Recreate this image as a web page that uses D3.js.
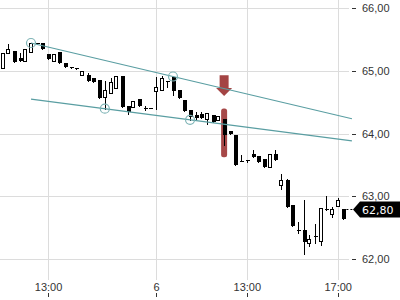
<!DOCTYPE html>
<html>
<head>
<meta charset="utf-8">
<script src="https://cdn.jsdelivr.net/npm/d3@7"></script>
<style>
  body { margin: 0; background: #fff; }
  svg { display: block; font-family: "DejaVu Sans", sans-serif; }
  .grid { stroke: #dcdcdc; stroke-width: 1; shape-rendering: crispEdges; }
  .axis text { font-size: 11px; fill: #333; }
  .axis line { stroke: #333; shape-rendering: crispEdges; }
</style>
</head>
<body>
<svg id="chart"></svg>
<script>
// 15 minute candles, index 0 = 11:00 on day 5
var opens  = [65.05,65.29,65.31,65.20,65.16,65.30,65.45,65.45,65.27,65.16,
              65.30,65.13,65.06,65.04,64.93,64.93,64.88,64.85,64.58,64.64,
              64.73,64.92,64.44,64.43,64.55,64.41,64.40,64.67,64.69,64.84,
              64.905,64.69,64.53,64.37,64.29,64.31,64.23,64.29,64.22,64.23,
              64.04,63.97,63.56,63.58,63.68,63.64,63.59,63.47,63.68,63.18,
              63.26,62.86,62.46,62.46,62.25,62.37,62.28,62.80,62.71,62.84,
              62.80];
var closes = [65.29,65.35,65.14,65.15,65.35,65.44,65.42,65.34,65.19,65.27,
              65.13,65.06,65.05,65.03,65.00,64.83,64.82,64.57,64.69,64.82,
              64.92,64.42,64.35,64.52,64.44,64.41,64.40,64.74,64.88,64.84,
              64.68,64.56,64.36,64.27,64.25,64.25,64.33,64.19,64.28,63.98,
              63.99,63.50,63.56,63.58,63.63,63.55,63.46,63.67,63.58,63.26,
              62.83,62.52,62.45,62.27,62.32,62.36,62.81,62.78,62.80,62.94,
              62.64];
var highs  = [65.29,65.42,65.31,65.28,65.35,65.442,65.45,65.45,65.27,65.27,
              65.30,65.13,65.06,65.04,65.00,64.96,64.88,64.85,64.83,64.88,
              64.92,64.92,64.44,64.52,64.55,64.44,64.40,64.90,64.91,64.84,
              64.908,64.69,64.53,64.37,64.34,64.34,64.33,64.29,64.28,64.23,
              64.04,63.97,63.65,63.58,63.73,63.64,63.59,63.67,63.73,63.35,
              63.27,62.86,62.59,62.94,62.38,62.56,62.81,63.01,62.83,62.98,
              62.80];
var lows   = [65.05,65.29,65.14,65.15,65.16,65.30,65.42,65.34,65.19,65.16,
              65.13,65.06,65.05,65.03,64.93,64.83,64.82,64.57,64.395,64.64,
              64.73,64.42,64.31,64.43,64.44,64.38,64.40,64.39,64.69,64.74,
              64.61,64.56,64.36,64.218,64.23,64.25,64.15,64.19,64.22,63.82,
              63.99,63.50,63.56,63.55,63.63,63.55,63.46,63.47,63.58,63.11,
              62.83,62.52,62.41,62.08,62.20,62.25,62.22,62.78,62.67,62.84,
              62.64];
var lastPrice = 62.80;

var yTicks = [62, 63, 64, 65, 66];
var xTickIdx = [8, 27, 43, 59];
var xTickLabels = ["13:00", "6", "13:00", "17:00"];

// trend lines: [index, price] anchors, drawn from the first anchor index to the right edge
var upperLine = [[5, 65.442], [30, 64.908]];
var lowerLine = [[18, 64.395], [33, 64.218]];
var touchPoints = [[5, 65.442], [30, 64.908], [18, 64.395], [33, 64.218]];
var lineStart = 5;
var lineEnd = 61.5;

// signal on candle 39
var signalIdx = 39;
var arrowTop = 64.93, arrowTip = 64.598;
var boxTop = 64.40, boxBottom = 63.62;

var width = 400, height = 300;
var svg = d3.select("#chart").attr("width", width).attr("height", height);

var x = d3.scaleLinear().domain([0, 60]).range([2.6, 343.4]);
var y = d3.scaleLinear().domain([62, 66]).range([259, 8]);
var fmt = d3.formatLocale({decimal: ",", thousands: ".", grouping: [3], currency: ["", ""]}).format(".2f");
var px = function(v) { return Math.round(v) + 0.5; };

// grid
svg.selectAll(".hgrid").data(yTicks).enter().append("line")
  .attr("class", "grid")
  .attr("x1", 0).attr("x2", 349)
  .attr("y1", function(d) { return px(y(d)); })
  .attr("y2", function(d) { return px(y(d)); });
svg.selectAll(".vgrid").data(xTickIdx).enter().append("line")
  .attr("class", "grid")
  .attr("x1", function(d) { return px(x(d)); })
  .attr("x2", function(d) { return px(x(d)); })
  .attr("y1", 0).attr("y2", 280);

// axes
var yAxis = svg.append("g").attr("class", "axis")
  .attr("transform", "translate(352,0)")
  .call(d3.axisRight(y).tickValues(yTicks).tickSize(4).tickPadding(6).tickFormat(fmt));
yAxis.select(".domain").remove();

var xAxis = svg.append("g").attr("class", "axis")
  .attr("transform", "translate(0,293)")
  .call(d3.axisBottom(x).tickValues(xTickIdx).tickSize(4)
    .tickFormat(function(d, i) { return xTickLabels[i]; }));
xAxis.select(".domain").remove();
xAxis.selectAll("text").attr("y", -2).attr("dy", 0);

// red highlight behind the signal candle
var hx = x(signalIdx);
svg.append("rect")
  .attr("x", hx - 3).attr("width", 6)
  .attr("y", y(boxTop)).attr("height", y(boxBottom) - y(boxTop))
  .attr("rx", 2.5)
  .attr("fill", "#9c3434").attr("opacity", 0.9);

// candles
var idx = d3.range(opens.length);
var candle = svg.append("g").selectAll("g").data(idx).enter().append("g");
candle.append("line")
  .attr("x1", function(i) { return px(x(i)); })
  .attr("x2", function(i) { return px(x(i)); })
  .attr("y1", function(i) { return Math.round(y(highs[i])); })
  .attr("y2", function(i) { return Math.round(y(lows[i])) + 1; })
  .attr("stroke", "#000").attr("shape-rendering", "crispEdges");
candle.append("rect")
  .attr("x", function(i) { return closes[i] > opens[i] ? Math.round(x(i)) - 1.5 : Math.round(x(i)) - 1; })
  .attr("width", function(i) { return closes[i] > opens[i] ? 4 : 4; })
  .attr("y", function(i) {
    var t = Math.round(y(Math.max(opens[i], closes[i])));
    return closes[i] > opens[i] ? t + 0.5 : t;
  })
  .attr("height", function(i) {
    var h = Math.round(y(Math.min(opens[i], closes[i]))) - Math.round(y(Math.max(opens[i], closes[i])));
    return closes[i] > opens[i] ? Math.max(h, 1) : Math.max(h, 1);
  })
  .attr("fill", function(i) { return closes[i] > opens[i] ? "#fff" : "#000"; })
  .attr("stroke", function(i) { return closes[i] > opens[i] ? "#000" : "none"; })
  .attr("shape-rendering", "crispEdges")
  .each(function(i) {
    if (closes[i] > opens[i]) d3.select(this).attr("width", 3);
  });

// red arrow
var ay0 = y(arrowTop), ay1 = y(arrowTip);
svg.append("path")
  .attr("d", "M" + (hx - 4.5) + "," + ay0 + "H" + (hx + 4.5) + "V" + (ay1 - 8) +
    "H" + (hx + 8) + "L" + hx + "," + ay1 + "L" + (hx - 8) + "," + (ay1 - 8) +
    "H" + (hx - 4.5) + "Z")
  .attr("fill", "#9c3434").attr("opacity", 0.92);

// trend lines
function extend(a, t) {
  var s = (a[1][1] - a[0][1]) / (a[1][0] - a[0][0]);
  return a[0][1] + (t - a[0][0]) * s;
}
[upperLine, lowerLine].forEach(function(l) {
  svg.append("line")
    .attr("x1", x(lineStart)).attr("y1", y(extend(l, lineStart)))
    .attr("x2", x(lineEnd)).attr("y2", y(extend(l, lineEnd)))
    .attr("stroke", "#5a9ea2").attr("stroke-width", 1.2);
});
svg.selectAll(".touch").data(touchPoints).enter().append("circle")
  .attr("cx", function(d) { return x(d[0]); })
  .attr("cy", function(d) { return y(d[1]); })
  .attr("r", 4.5)
  .attr("fill", "none").attr("stroke", "#7fb4b6").attr("stroke-width", 1.2);

// last price marker
var ly = Math.round(y(lastPrice)) + 0.5;
svg.append("line")
  .attr("x1", x(60) + 3).attr("x2", 353).attr("y1", ly).attr("y2", ly)
  .attr("stroke", "#000").attr("stroke-dasharray", "2,2");
svg.append("path")
  .attr("d", "M353," + ly + "L360," + (ly - 8) + "H400V" + (ly + 8) + "H360Z")
  .attr("fill", "#000");
svg.append("text")
  .attr("x", 362).attr("y", ly + 4)
  .attr("font-size", 11).attr("fill", "#fff")
  .text(fmt(lastPrice));
</script>
</body>
</html>
